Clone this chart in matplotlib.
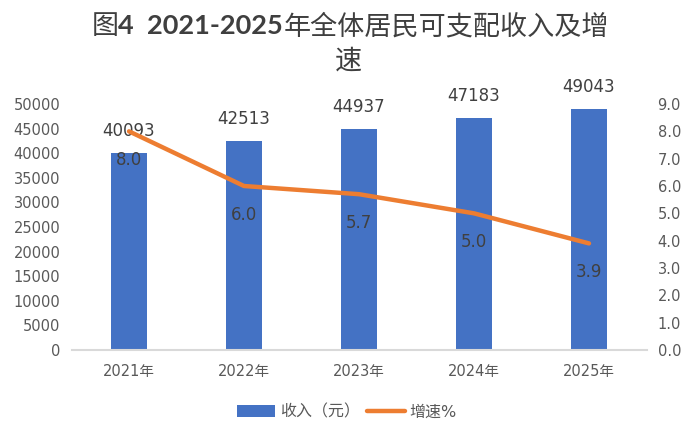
import matplotlib
matplotlib.use('Agg')
import matplotlib.pyplot as plt
from matplotlib.offsetbox import TextArea, HPacker, AnchoredOffsetbox
import numpy as np

years = ['2021年', '2022年', '2023年', '2024年', '2025年']
income = [40093, 42513, 44937, 47183, 49043]
growth = [8.0, 6.0, 5.7, 5.0, 3.9]
left_ticks = list(range(0, 50001, 5000))
right_ticks = [float(i) for i in range(10)]
title_parts = ['图', '4  2021-2025', '年全体居民可支配收入及增']
title_line2 = '速'

plt.rcParams['font.family'] = ['DejaVu Sans', 'Noto Sans CJK SC']

BAR = '#4472C4'
LINE = '#ED7D31'
TICK = '#595959'
LAB = '#404040'
TTL = '#3F3F3F'

fig = plt.figure(figsize=(6.9, 4.41), dpi=100)
ax = fig.add_axes([71.5 / 690, 1 - 350 / 441, 575 / 690, 246 / 441])
x = np.arange(len(years))
ax.bar(x, income, width=0.313, color=BAR, label='收入（元）', zorder=2)
ax.set_xlim(-0.5, 4.5)
ax.set_ylim(0, 50000)
ax.set_yticks(left_ticks)
ax.set_yticklabels([str(v) for v in left_ticks])
ax.set_xticks(x)
ax.set_xticklabels(years)
ax.tick_params(axis='y', length=0, pad=8, labelsize=10.5, labelcolor=TICK)
ax.tick_params(axis='x', length=0, pad=10, labelsize=10.5, labelcolor=TICK)
for s in ['top', 'left', 'right']:
    ax.spines[s].set_visible(False)
ax.spines['bottom'].set_color('#D9D9D9')
ax.spines['bottom'].set_linewidth(1.5)

for xi, v in zip(x, income):
    ax.annotate(str(v), (xi, v), xytext=(0, 22), textcoords='offset pixels',
                ha='center', va='center', fontsize=12, color=LAB)

ax2 = ax.twinx()
ax2.plot(x, growth, color=LINE, lw=3.2, label='增速%', solid_capstyle='round',
         solid_joinstyle='round')
ax2.set_ylim(0, 9)
ax2.set_yticks(right_ticks)
ax2.set_yticklabels([f'{v:.1f}' for v in right_ticks])
ax2.tick_params(axis='y', length=0, pad=8, labelsize=10.5, labelcolor=TICK)
for s in ax2.spines.values():
    s.set_visible(False)

for xi, v in zip(x, growth):
    ax2.annotate(f'{v:.1f}', (xi, v), xytext=(0, -29), textcoords='offset pixels',
                 ha='center', va='center', fontsize=12, color=LAB)

# Title: regular CJK with bold numerals
cjk = dict(family=['Noto Sans CJK SC'], size=19.5, color=TTL)
num = dict(family=['Lato', 'DejaVu Sans'], size=19.5, weight='bold', color=TTL)
areas = [TextArea(title_parts[0], textprops=cjk),
         TextArea(title_parts[1], textprops=num),
         TextArea(title_parts[2], textprops=cjk)]
pack = HPacker(children=areas, align='baseline', pad=0, sep=0)
anch = AnchoredOffsetbox(loc='center', child=pack, pad=0, borderpad=0, frameon=False,
                         bbox_to_anchor=(350 / 690, 1 - 27 / 441),
                         bbox_transform=fig.transFigure)
fig.add_artist(anch)
fig.text(348 / 690, 1 - 61 / 441, title_line2, ha='center', va='center', **cjk)

h1, l1 = ax.get_legend_handles_labels()
h2, l2 = ax2.get_legend_handles_labels()
fig.legend(h1 + h2, l1 + l2, loc='center', bbox_to_anchor=(347 / 690, 1 - 412 / 441),
           ncol=2, frameon=False, fontsize=11.5, handlelength=2.4, handleheight=0.8,
           handletextpad=0.3, columnspacing=0.4, labelcolor=TICK)

fig.savefig('out.png', dpi=100)
